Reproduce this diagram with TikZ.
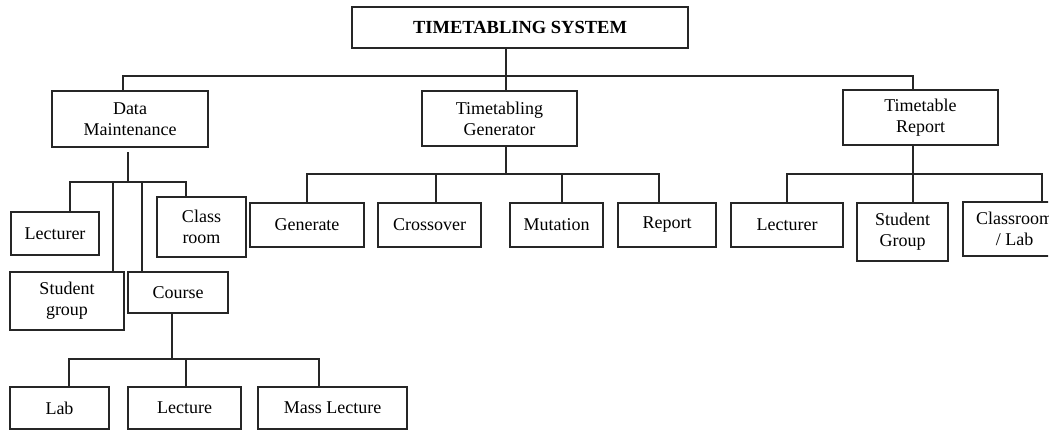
\documentclass[tikz,border=0pt]{standalone}
\usepackage{fontspec}
\setmainfont{Liberation Serif}
\begin{document}
\begin{tikzpicture}[x=1pt,y=-1pt,
  box/.style={draw=black!85, line width=1.2pt, rectangle, inner sep=0pt,
    align=center, font=\fontsize{18}{21}\selectfont},
  link/.style={draw=black!85, line width=1.2pt}]
\useasboundingbox (0,0) rectangle (1060,432);

% root
\node[box, minimum width=336pt, minimum height=41pt,
  font=\fontsize{18.5}{21}\selectfont\bfseries] (sys) at (520,27.5) {TIMETABLING SYSTEM};

% first level
\node[box, minimum width=156pt, minimum height=56pt] (dm) at (130,119) {Data\\Maintenance};
\node[box, minimum width=155pt, minimum height=55pt] (tg) at (499.5,118.5) {Timetabling\\Generator};
\node[box, minimum width=155pt, minimum height=55pt] (tr) at (920.5,117.5) {Timetable\\Report};

% data maintenance children
\node[box, minimum width=88pt, minimum height=43pt] (dlec) at (55,233.5) {Lecturer};
\node[box, minimum width=89pt, minimum height=60pt] (dcls) at (201.5,227) {Class\\room};
\node[box, minimum width=114pt, minimum height=58pt] (dstu) at (67,301) {Student\\group};
\node[box, minimum width=100pt, minimum height=41pt] (dcrs) at (178,292.5) {Course};

% course children
\node[box, minimum width=99pt, minimum height=42pt] (lab) at (59.5,408) {Lab};
\node[box, minimum width=113pt, minimum height=42pt] (lect) at (184.5,408) {Lecture};
\node[box, minimum width=149pt, minimum height=42pt] (mass) at (332.5,408) {Mass Lecture};

% generator children
\node[box, minimum width=114pt, minimum height=44pt] (gen) at (307,225) {Generate};
\node[box, minimum width=103pt, minimum height=44pt] (cro) at (429.5,225) {Crossover};
\node[box, minimum width=93pt, minimum height=44pt] (mut) at (556.5,225) {Mutation};
\node[box, minimum width=98pt, minimum height=44pt] (rep) at (667,225) {Report};

% report children
\node[box, minimum width=112pt, minimum height=44pt] (rlec) at (787,225) {Lecturer};
\node[box, minimum width=91pt, minimum height=58pt] (rstu) at (902.5,232) {Student\\Group};
\begin{scope}
  \clip (0,0) rectangle (1048,432);
  \node[box, minimum width=103pt, minimum height=54pt] (rcls) at (1014.5,229) {Classroom\\/ Lab};
\end{scope}

% top level bus
\coordinate (b0) at (506,76);
\coordinate (b0L) at (123,76);
\coordinate (b0R) at (913,76);
\draw[link] (sys.south -| b0) -- (b0);
\draw[link] (dm.north -| b0L) -- (b0L) -- (b0R) -- (tr.north -| b0R);
\draw[link] (b0) -- (tg.north -| b0);

% data maintenance bus
\coordinate (dmT) at (128,152);
\coordinate (dm0) at (128,182);
\coordinate (dA) at (70,182);
\coordinate (dB) at (113,182);
\coordinate (dC) at (142,182);
\coordinate (dD) at (186,182);
\draw[link] (dmT) -- (dm0);
\draw[link] (dlec.north -| dA) -- (dA) -- (dD) -- (dcls.north -| dD);
\draw[link] (dB) -- (dstu.north -| dB);
\draw[link] (dC) -- (dcrs.north -| dC);

% course bus
\coordinate (c0) at (172,359);
\coordinate (cA) at (69,359);
\coordinate (cB) at (186,359);
\coordinate (cC) at (319,359);
\draw[link] (dcrs.south -| c0) -- (c0);
\draw[link] (lab.north -| cA) -- (cA) -- (cC) -- (mass.north -| cC);
\draw[link] (cB) -- (lect.north -| cB);

% generator bus
\coordinate (g0) at (506,174);
\coordinate (gA) at (307,174);
\coordinate (gB) at (436,174);
\coordinate (gC) at (562,174);
\coordinate (gD) at (659,174);
\draw[link] (tg.south -| g0) -- (g0);
\draw[link] (gen.north -| gA) -- (gA) -- (gD) -- (rep.north -| gD);
\draw[link] (gB) -- (cro.north -| gB);
\draw[link] (gC) -- (mut.north -| gC);

% report bus
\coordinate (r0) at (913,174);
\coordinate (rA) at (787,174);
\coordinate (rC) at (1042,174);
\draw[link] (tr.south -| r0) -- (r0) -- (rstu.north -| r0);
\draw[link] (rlec.north -| rA) -- (rA) -- (rC) -- (rcls.north -| rC);
\end{tikzpicture}
\end{document}
